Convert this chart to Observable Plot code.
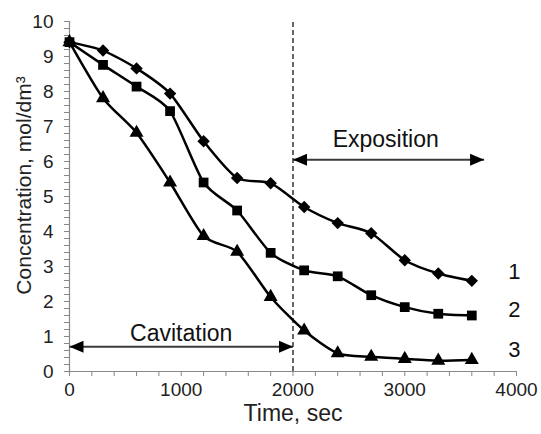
<!DOCTYPE html>
<html>
<head>
<meta charset="utf-8">
<script src="https://cdn.jsdelivr.net/npm/d3@7"></script>
<script src="https://cdn.jsdelivr.net/npm/@observablehq/plot@0.6"></script>
<style>
  html, body { margin: 0; padding: 0; background: #fff; }
  #chart { width: 541px; height: 434px; }
</style>
</head>
<body>
<div id="chart"></div>
<script>
// Data
const times = [0, 300, 600, 900, 1200, 1500, 1800, 2100, 2400, 2700, 3000, 3300, 3600];
const series1 = [9.41, 9.17, 8.66, 7.94, 6.58, 5.53, 5.38, 4.70, 4.24, 3.95, 3.18, 2.80, 2.59];
const series2 = [9.41, 8.76, 8.14, 7.44, 5.40, 4.60, 3.39, 2.89, 2.72, 2.18, 1.84, 1.65, 1.60];
const series3 = [9.41, 7.81, 6.82, 5.40, 3.87, 3.42, 2.13, 1.17, 0.52, 0.42, 0.36, 0.31, 0.33];
const seriesNames = ["1", "2", "3"];
const seriesSymbols = ["diamond2", "square", "triangle"];
const xTicks = d3.range(0, 4001, 200);
const yTicks = d3.range(0, 51).map(i => i / 5);
const boundary = [2000];
// annotation arrows (data units)
const arrowNames = ["Cavitation", "Exposition"];
const arrowX1 = [0, 2000];
const arrowX2 = [2000, 3710];
const arrowY = [0.71, 6.05];
const arrowLabelX = [1000, 2830];
const arrowLabelY = [1.08, 6.63];
const seriesLabelX = [3980, 3980, 3980];
const seriesLabelY = [2.85, 1.75, 0.62];

const allSeries = [series1, series2, series3];
const rows = allSeries.flatMap((s, k) => times.map((t, i) => ({t, c: s[i], name: seriesNames[k], sym: seriesSymbols[k]})));
const arrows = arrowNames.map((n, i) => ({name: n, x1: arrowX1[i], x2: arrowX2[i], y: arrowY[i], lx: arrowLabelX[i], ly: arrowLabelY[i]}));
const heads = arrows.flatMap(a => [{x: a.x1, y: a.y, rot: -90}, {x: a.x2, y: a.y, rot: 90}]);
const seriesLabels = seriesNames.map((n, i) => ({n, x: seriesLabelX[i], y: seriesLabelY[i]}));
const markerR = {diamond2: 5.6, square: 5.5, triangle: 5.2};

const headShape = {
  draw(context, l, r) {
    context.moveTo(0, -l);
    context.lineTo(-r, 0);
    context.lineTo(r, 0);
    context.closePath();
  }
};

const chart = Plot.plot({
  width: 541,
  height: 434,
  marginLeft: 69,
  marginRight: 25,
  marginTop: 21,
  marginBottom: 63,
  style: {fontFamily: "'Liberation Sans', Arial, sans-serif", fontSize: "19px", color: "#000", background: "#fff"},
  x: {domain: [0, 4000]},
  y: {domain: [0, 10]},
  marks: [
    Plot.axisX(xTicks, {tickSize: 5, tickPadding: 6, stroke: "#888", fontSize: 19, fill: "#222", tickFormat: d => d % 1000 === 0 ? String(d) : "", label: null}),
    Plot.axisY(yTicks, {tickSize: 5, tickPadding: 11, stroke: "#888", fontSize: 19, fill: "#222", tickFormat: d => Number.isInteger(d) ? String(d) : "", label: null}),
    Plot.ruleY([0], {stroke: "#888", strokeWidth: 1.2}),
    Plot.ruleX([0], {stroke: "#888", strokeWidth: 1.2}),
    Plot.ruleX(boundary, {y1: 0, y2: 10, stroke: "#000", strokeWidth: 1.2, strokeDasharray: "5,3"}),
    Plot.line(rows, {x: "t", y: "c", z: "name", stroke: "#000", strokeWidth: 2.5, curve: "cardinal", tension: 0.3}),
    ...seriesSymbols.map(sym => Plot.dot(rows.filter(d => d.sym === sym), {x: "t", y: "c", symbol: sym, fill: "#000", stroke: "none", r: markerR[sym]})),
    Plot.link(arrows, {x1: "x1", x2: "x2", y1: "y", y2: "y", stroke: "#3a3a3a", strokeWidth: 2}),
    Plot.vector(heads, {x: "x", y: "y", rotate: "rot", length: 14, r: 6, anchor: "end", shape: headShape, fill: "#000", stroke: "none"}),
    Plot.text(arrows, {x: "lx", y: "ly", text: "name", fontSize: 23, fill: "#111"}),
    Plot.text(seriesLabels, {x: "x", y: "y", text: "n", fontSize: 22, fill: "#111"}),
    Plot.text(["Time, sec"], {frameAnchor: "bottom", dy: 49, fontSize: 23, fill: "#222"}),
    Plot.text(["Concentration, mol/dm³"], {frameAnchor: "left", textAnchor: "middle", dx: -45, dy: -11, rotate: -90, fontSize: 21, fill: "#222"})
  ]
});
document.getElementById("chart").append(chart);
</script>
</body>
</html>
